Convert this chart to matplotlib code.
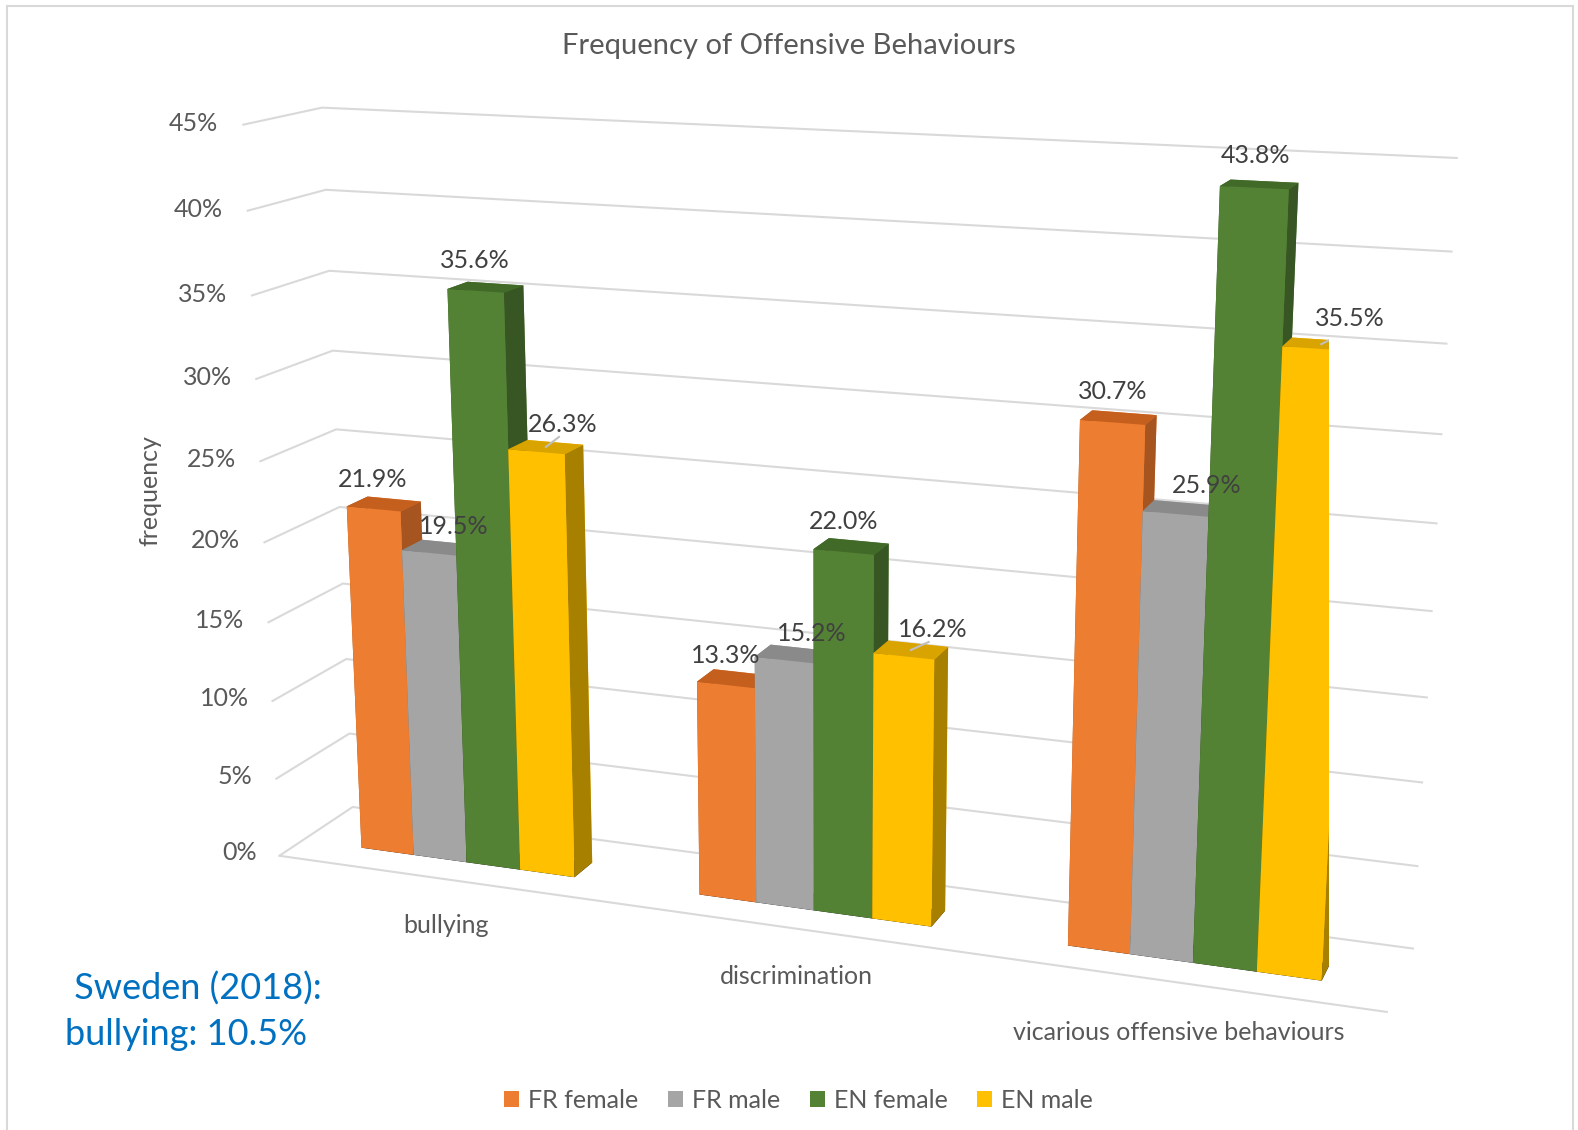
import numpy as np
import matplotlib
matplotlib.use("Agg")
import matplotlib.pyplot as plt
from matplotlib.patches import Patch
from matplotlib.lines import Line2D

plt.rcParams['font.family'] = ['Lato', 'DejaVu Sans']

# données
categories = ['bullying', 'discrimination', 'vicarious offensive behaviours']
series = ['FR female', 'FR male', 'EN female', 'EN male']
fr_female = [21.9, 13.3, 30.7]
fr_male = [19.5, 15.2, 25.9]
en_female = [35.6, 22.0, 43.8]
en_male = [26.3, 16.2, 35.5]
z_ticks = [0, 5, 10, 15, 20, 25, 30, 35, 40, 45]

values = [fr_female, fr_male, en_female, en_male]
front_cols = ['#ED7D31', '#A5A5A5', '#548235', '#FFC000']
top_cols = ['#C45F1E', '#8A8A8A', '#416A29', '#D9A300']
side_cols = ['#A65420', '#7B7B7B', '#375623', '#A88000']
label_shift = [0.0, 0.075, 0.0, 0.075]
leader = [False, False, False, True]

text_col = '#595959'
grid_col = '#D9D9D9'

fig = plt.figure(figsize=(15.78, 11.30), dpi=100)
ax = fig.add_axes([0.073, 0.0554, 0.88, 0.92], projection='3d')
ax.set_proj_type('persp', focal_length=0.52)
ax.view_init(elev=14.8, azim=-70)
ax.set_box_aspect((1155, 157, 763), zoom=1.338)
ax.computed_zorder = False

w = 0.16
y0, dy = 0.32, 0.28
for i in range(len(categories)):
    for j in range(len(series)):
        x = i - 2 * w + j * w
        v = values[j][i]
        cols = ['#000000', top_cols[j], front_cols[j], front_cols[j],
                side_cols[j], side_cols[j]]
        ax.bar3d(x, y0, 0, w, dy, v, color=cols, shade=False,
                 linewidth=0, zorder=10 + i * 4 + j)
        xl = x + w / 2 + label_shift[j]
        ax.text(xl, y0, v + 1.1, f"{v:.1f}%", ha='center', va='bottom',
                fontsize=18, color='#404040', zorder=60)
        if leader[j]:
            ax.plot([x + w / 2, xl - 0.01], [y0 + dy / 2, y0], [v, v + 1.0],
                    color='#BFBFBF', linewidth=1.5, zorder=40 + i * 4 + j)

for i, c in enumerate(categories):
    ax.text(i, 0, -3.0, c, ha='center', va='center', fontsize=18,
            color=text_col, zorder=60)

# étiquettes de l'axe vertical, à gauche
for t in z_ticks:
    ax.text(-0.57, 0, t, f"{t}%", ha='right', va='center', fontsize=18,
            color=text_col, zorder=60)

ax.set_xlim(-0.5, 2.5)
ax.set_ylim(0, 1)
ax.set_zlim(0, 45)
ax.set_xticks([])
ax.set_yticks([])
ax.set_zticks(z_ticks)
ax.set_zticklabels([])

for axis in (ax.xaxis, ax.yaxis, ax.zaxis):
    axis.set_pane_color((1, 1, 1, 0))
    axis.pane.set_edgecolor((1, 1, 1, 0))
    axis._axinfo['tick']['inward_factor'] = 0
    axis._axinfo['tick']['outward_factor'] = 0
ax.xaxis._axinfo['grid']['color'] = (1, 1, 1, 0)
ax.yaxis._axinfo['grid']['color'] = (1, 1, 1, 0)
ax.zaxis._axinfo['grid']['color'] = grid_col
ax.zaxis._axinfo['grid']['linewidth'] = 1.5
ax.xaxis.line.set_color(grid_col)
ax.xaxis.line.set_linewidth(1.5)
ax.yaxis.line.set_color((1, 1, 1, 0))
ax.zaxis.line.set_color((1, 1, 1, 0))

fig.text(0.5, 0.959, "Frequency of Offensive Behaviours", ha='center',
         va='center', fontsize=21, color=text_col)
fig.text(0.095, 0.566, "frequency", rotation=90, ha='center', va='center',
         fontsize=18, color=text_col)

fig.text(0.041, 0.105, " Sweden (2018):\nbullying: 10.5%", ha='left',
         va='center', fontsize=26, color='#0070C0', linespacing=1.45)

handles = [Patch(facecolor=c, edgecolor='none') for c in front_cols]
fig.legend(handles, series, loc='center', bbox_to_anchor=(0.506, 0.026),
           ncol=4, frameon=False, fontsize=18, handlelength=0.6,
           handleheight=0.6, handletextpad=0.35, columnspacing=1.2,
           labelcolor=text_col)

# cadre du graphique
for xs, ys in (([0.0045, 0.0045], [0, 0.995]), ([0.0045, 0.997], [0.995, 0.995]),
               ([0.997, 0.997], [0, 0.995])):
    fig.add_artist(Line2D(xs, ys, color=grid_col, linewidth=1.5))

fig.savefig("out.png", dpi=100)
